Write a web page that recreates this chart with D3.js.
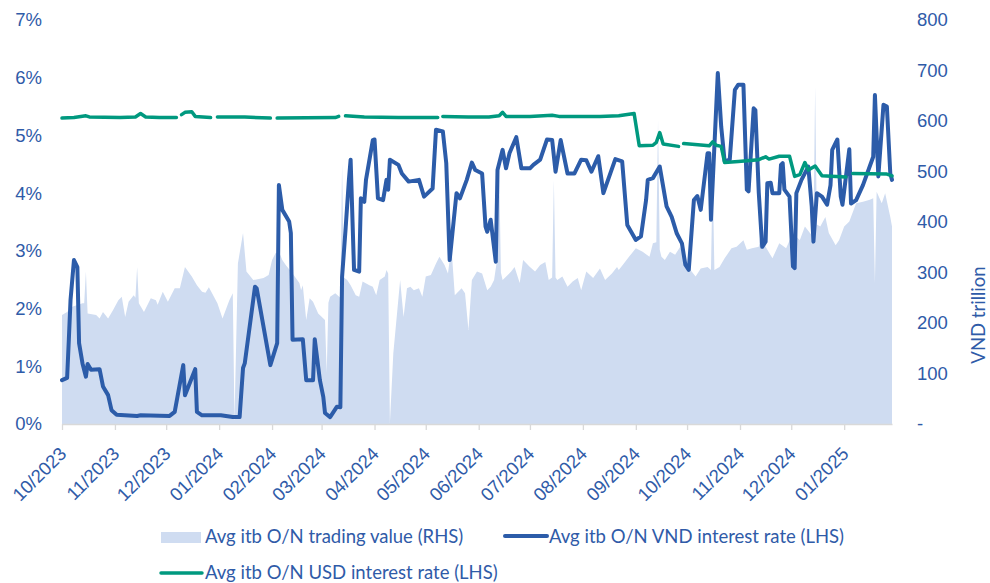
<!DOCTYPE html>
<html>
<head>
<meta charset="utf-8">
<script src="https://cdn.jsdelivr.net/npm/d3@7"></script>
<style>
  body { margin: 0; background: #fff; }
  svg { display: block; font-family: Lato, "Open Sans", sans-serif; }
  .axis text, .legend text, .axis-title { fill: #2f5ba8; font-size: 18.5px; }
</style>
</head>
<body>
<div id="chart"></div>
<script>
// avg interbank O/N trading value, VND trillion (right axis)
const tradingValue = [
  ["2023-10-01", 216], ["2023-10-04", 222], ["2023-10-07", 232], ["2023-10-13", 239],
  ["2023-10-14", 239], ["2023-10-15", 302], ["2023-10-16", 219], ["2023-10-21", 216],
  ["2023-10-23", 209], ["2023-10-25", 222], ["2023-10-28", 209], ["2023-10-31", 226],
  ["2023-11-03", 245], ["2023-11-05", 252], ["2023-11-07", 212], ["2023-11-09", 242],
  ["2023-11-12", 255], ["2023-11-13", 250], ["2023-11-14", 311], ["2023-11-15", 239],
  ["2023-11-18", 222], ["2023-11-22", 249], ["2023-11-25", 245], ["2023-11-26", 236],
  ["2023-11-29", 262], ["2023-12-02", 242], ["2023-12-06", 269], ["2023-12-09", 269],
  ["2023-12-12", 311], ["2023-12-16", 292], ["2023-12-19", 275], ["2023-12-22", 262],
  ["2023-12-24", 260], ["2023-12-26", 271], ["2023-12-31", 239], ["2024-01-03", 209],
  ["2024-01-06", 236], ["2024-01-07", 245], ["2024-01-09", 259], ["2024-01-10", 8],
  ["2024-01-12", 318], ["2024-01-15", 378], ["2024-01-17", 302], ["2024-01-21", 285],
  ["2024-01-27", 289], ["2024-01-30", 295], ["2024-02-01", 325], ["2024-02-03", 338],
  ["2024-02-05", 341], ["2024-02-07", 325], ["2024-02-09", 315], ["2024-02-13", 298],
  ["2024-02-17", 279], ["2024-02-18", 265], ["2024-02-19", 275], ["2024-02-21", 206],
  ["2024-02-23", 249], ["2024-02-25", 242], ["2024-02-28", 219], ["2024-03-03", 206],
  ["2024-03-04", 101], ["2024-03-05", 240], ["2024-03-06", 252], ["2024-03-09", 259],
  ["2024-03-12", 250], ["2024-03-13", 517], ["2024-03-14", 290], ["2024-03-16", 285],
  ["2024-03-18", 275], ["2024-03-21", 255], ["2024-03-23", 252], ["2024-03-25", 282],
  ["2024-03-29", 275], ["2024-03-31", 272], ["2024-04-02", 255], ["2024-04-04", 285],
  ["2024-04-07", 292], ["2024-04-08", 305], ["2024-04-09", 298], ["2024-04-10", 2],
  ["2024-04-12", 140], ["2024-04-16", 285], ["2024-04-18", 212], ["2024-04-20", 269],
  ["2024-04-22", 272], ["2024-04-24", 265], ["2024-04-27", 269], ["2024-04-29", 252],
  ["2024-05-01", 292], ["2024-05-04", 295], ["2024-05-07", 318], ["2024-05-09", 331],
  ["2024-05-12", 315], ["2024-05-14", 298], ["2024-05-16", 351], ["2024-05-18", 255],
  ["2024-05-22", 269], ["2024-05-24", 259], ["2024-05-26", 186], ["2024-05-28", 285],
  ["2024-05-31", 302], ["2024-06-03", 298], ["2024-06-06", 265], ["2024-06-08", 272],
  ["2024-06-10", 285], ["2024-06-12", 331], ["2024-06-13", 503], ["2024-06-14", 300],
  ["2024-06-15", 285], ["2024-06-18", 295], ["2024-06-20", 302], ["2024-06-22", 311],
  ["2024-06-25", 279], ["2024-06-27", 325], ["2024-07-01", 311], ["2024-07-04", 302],
  ["2024-07-07", 315], ["2024-07-10", 321], ["2024-07-12", 285], ["2024-07-14", 290],
  ["2024-07-15", 483], ["2024-07-16", 290], ["2024-07-17", 285], ["2024-07-20", 292],
  ["2024-07-23", 272], ["2024-07-26", 282], ["2024-07-29", 289], ["2024-07-31", 265],
  ["2024-08-03", 302], ["2024-08-07", 289], ["2024-08-11", 308], ["2024-08-14", 285],
  ["2024-08-18", 298], ["2024-08-21", 311], ["2024-08-22", 305], ["2024-08-25", 318],
  ["2024-08-28", 331], ["2024-09-01", 348], ["2024-09-05", 341], ["2024-09-09", 331],
  ["2024-09-11", 358], ["2024-09-13", 360], ["2024-09-14", 602], ["2024-09-15", 345],
  ["2024-09-16", 331], ["2024-09-18", 325], ["2024-09-21", 341], ["2024-09-24", 335],
  ["2024-09-27", 351], ["2024-09-30", 318], ["2024-10-03", 305], ["2024-10-06", 292],
  ["2024-10-09", 308], ["2024-10-13", 311], ["2024-10-15", 305], ["2024-10-16", 497],
  ["2024-10-17", 305], ["2024-10-20", 311], ["2024-10-23", 328], ["2024-10-27", 348],
  ["2024-10-30", 351], ["2024-11-03", 364], ["2024-11-05", 345], ["2024-11-08", 348],
  ["2024-11-12", 351], ["2024-11-14", 397], ["2024-11-16", 351], ["2024-11-20", 328],
  ["2024-11-24", 358], ["2024-11-28", 348], ["2024-12-02", 378], ["2024-12-06", 364],
  ["2024-12-09", 391], ["2024-12-13", 374], ["2024-12-14", 380], ["2024-12-15", 668],
  ["2024-12-16", 395], ["2024-12-18", 391], ["2024-12-21", 410], ["2024-12-23", 378],
  ["2024-12-27", 354], ["2024-12-29", 364], ["2025-01-01", 391], ["2025-01-04", 401],
  ["2025-01-08", 437], ["2025-01-12", 440], ["2025-01-16", 444], ["2025-01-18", 447],
  ["2025-01-19", 279], ["2025-01-20", 460], ["2025-01-23", 437], ["2025-01-25", 457],
  ["2025-01-28", 410], ["2025-01-29", 391]
];

// avg interbank O/N VND rate, % (left axis)
const vndRate = [
  ["2023-10-01", 0.76], ["2023-10-04", 0.80], ["2023-10-05", 1.46], ["2023-10-06", 2.15],
  ["2023-10-08", 2.84], ["2023-10-10", 2.72], ["2023-10-11", 1.40], ["2023-10-13", 1.05],
  ["2023-10-15", 0.82], ["2023-10-16", 1.04], ["2023-10-18", 0.94], ["2023-10-23", 0.95],
  ["2023-10-25", 0.65], ["2023-10-28", 0.50], ["2023-10-30", 0.24], ["2023-11-02", 0.16],
  ["2023-11-14", 0.14], ["2023-11-16", 0.15], ["2023-12-03", 0.14], ["2023-12-06", 0.21],
  ["2023-12-11", 1.02], ["2023-12-12", 0.50], ["2023-12-18", 0.95], ["2023-12-19", 0.21],
  ["2023-12-22", 0.15], ["2024-01-02", 0.15], ["2024-01-09", 0.12], ["2024-01-13", 0.12],
  ["2024-01-15", 0.97], ["2024-01-16", 1.05], ["2024-01-22", 2.38], ["2024-01-23", 2.35],
  ["2024-01-31", 1.02], ["2024-02-04", 1.40], ["2024-02-05", 4.14], ["2024-02-07", 3.71],
  ["2024-02-11", 3.51], ["2024-02-12", 3.31], ["2024-02-13", 1.46], ["2024-02-19", 1.47],
  ["2024-02-21", 0.76], ["2024-02-25", 0.76], ["2024-02-26", 1.47], ["2024-02-29", 0.76],
  ["2024-03-02", 0.47], ["2024-03-03", 0.19], ["2024-03-06", 0.12], ["2024-03-10", 0.30],
  ["2024-03-12", 0.29], ["2024-03-13", 2.55], ["2024-03-15", 3.36], ["2024-03-17", 4.23],
  ["2024-03-18", 4.58], ["2024-03-20", 2.67], ["2024-03-23", 2.64], ["2024-03-24", 3.91],
  ["2024-03-26", 3.85], ["2024-03-27", 4.23], ["2024-03-31", 4.92], ["2024-04-01", 4.93],
  ["2024-04-03", 3.91], ["2024-04-06", 3.88], ["2024-04-08", 4.23], ["2024-04-09", 4.06],
  ["2024-04-10", 4.58], ["2024-04-15", 4.49], ["2024-04-17", 4.34], ["2024-04-21", 4.20],
  ["2024-04-27", 4.23], ["2024-04-30", 3.94], ["2024-05-05", 4.08], ["2024-05-07", 5.10],
  ["2024-05-11", 5.07], ["2024-05-13", 4.52], ["2024-05-15", 2.84], ["2024-05-19", 4.00],
  ["2024-05-21", 3.91], ["2024-05-25", 4.23], ["2024-05-28", 4.53], ["2024-05-30", 4.40],
  ["2024-06-03", 4.34], ["2024-06-05", 3.42], ["2024-06-06", 3.33], ["2024-06-08", 3.54],
  ["2024-06-11", 2.81], ["2024-06-12", 4.40], ["2024-06-15", 4.75], ["2024-06-17", 4.43],
  ["2024-06-19", 4.69], ["2024-06-23", 4.97], ["2024-06-26", 4.43], ["2024-07-01", 4.43],
  ["2024-07-03", 4.49], ["2024-07-07", 4.58], ["2024-07-11", 4.93], ["2024-07-14", 4.92],
  ["2024-07-16", 4.37], ["2024-07-19", 4.92], ["2024-07-23", 4.34], ["2024-07-27", 4.34],
  ["2024-07-31", 4.58], ["2024-08-03", 4.57], ["2024-08-06", 4.37], ["2024-08-10", 4.64],
  ["2024-08-13", 4.00], ["2024-08-20", 4.59], ["2024-08-24", 4.55], ["2024-08-27", 3.45],
  ["2024-09-01", 3.19], ["2024-09-04", 3.25], ["2024-09-07", 3.88], ["2024-09-08", 4.23],
  ["2024-09-11", 4.26], ["2024-09-15", 4.46], ["2024-09-19", 3.77], ["2024-09-22", 3.59],
  ["2024-09-25", 3.30], ["2024-09-28", 3.13], ["2024-09-30", 2.76], ["2024-10-02", 2.67],
  ["2024-10-05", 3.88], ["2024-10-07", 3.95], ["2024-10-09", 3.71], ["2024-10-13", 4.69],
  ["2024-10-14", 4.69], ["2024-10-15", 3.54], ["2024-10-19", 6.08], ["2024-10-21", 5.15],
  ["2024-10-23", 4.55], ["2024-10-26", 4.58], ["2024-10-29", 5.79], ["2024-10-31", 5.88],
  ["2024-11-03", 5.88], ["2024-11-05", 4.06], ["2024-11-06", 4.03], ["2024-11-09", 5.47],
  ["2024-11-10", 5.44], ["2024-11-12", 4.00], ["2024-11-14", 3.07], ["2024-11-16", 3.16],
  ["2024-11-17", 4.17], ["2024-11-19", 4.18], ["2024-11-20", 4.00], ["2024-11-24", 4.00],
  ["2024-11-25", 4.49], ["2024-11-26", 4.52], ["2024-11-27", 4.06], ["2024-11-30", 3.94],
  ["2024-12-02", 2.73], ["2024-12-03", 2.70], ["2024-12-04", 4.00], ["2024-12-07", 4.23],
  ["2024-12-11", 4.46], ["2024-12-13", 3.77], ["2024-12-14", 3.16], ["2024-12-16", 4.00],
  ["2024-12-19", 3.94], ["2024-12-22", 3.80], ["2024-12-24", 4.14], ["2024-12-25", 4.75],
  ["2024-12-28", 4.93], ["2024-12-30", 3.94], ["2024-12-31", 3.80], ["2025-01-04", 4.76],
  ["2025-01-05", 3.82], ["2025-01-08", 3.88], ["2025-01-12", 4.14], ["2025-01-18", 4.63],
  ["2025-01-19", 5.70], ["2025-01-21", 4.29], ["2025-01-24", 5.53], ["2025-01-26", 5.50],
  ["2025-01-28", 4.34], ["2025-01-29", 4.23]
];

// avg interbank O/N USD rate, % (left axis), null = no quote
const usdRate = [
  ["2023-10-01", 5.30], ["2023-10-08", 5.31], ["2023-10-15", 5.34], ["2023-10-17", 5.32],
  ["2023-11-04", 5.31], ["2023-11-13", 5.32], ["2023-11-16", 5.38], ["2023-11-19", 5.32],
  ["2023-11-27", 5.31], ["2023-12-07", 5.31], ["2023-12-09", null], ["2023-12-10", 5.36],
  ["2023-12-12", 5.40], ["2023-12-16", 5.41], ["2023-12-18", 5.33], ["2023-12-27", 5.31],
  ["2023-12-29", null], ["2023-12-31", 5.32], ["2024-01-16", 5.32], ["2024-01-31", 5.30],
  ["2024-02-02", null], ["2024-02-04", 5.30], ["2024-03-09", 5.31], ["2024-03-11", 5.33],
  ["2024-03-12", null], ["2024-03-15", 5.34], ["2024-03-26", 5.32], ["2024-04-15", 5.31],
  ["2024-05-08", 5.31], ["2024-05-09", null], ["2024-05-11", 5.33], ["2024-05-26", 5.32],
  ["2024-06-07", 5.32], ["2024-06-13", 5.34], ["2024-06-15", 5.40], ["2024-06-17", 5.33],
  ["2024-07-01", 5.33], ["2024-07-14", 5.35], ["2024-07-18", 5.33], ["2024-08-11", 5.33],
  ["2024-08-22", 5.34], ["2024-08-31", 5.38], ["2024-09-03", 4.82], ["2024-09-11", 4.83],
  ["2024-09-13", 4.88], ["2024-09-15", 5.05], ["2024-09-17", 4.85], ["2024-09-26", 4.81],
  ["2024-09-27", null], ["2024-09-29", 4.86], ["2024-10-14", 4.82], ["2024-10-16", 4.89],
  ["2024-10-18", 4.83], ["2024-10-21", 4.81], ["2024-10-23", 4.53], ["2024-10-31", 4.55],
  ["2024-11-12", 4.58], ["2024-11-16", 4.63], ["2024-11-18", 4.59], ["2024-11-24", 4.64],
  ["2024-11-30", 4.64], ["2024-12-03", 4.29], ["2024-12-06", 4.32], ["2024-12-09", 4.53],
  ["2024-12-11", 4.40], ["2024-12-15", 4.47], ["2024-12-19", 4.30], ["2025-01-02", 4.28],
  ["2025-01-04", null], ["2025-01-06", 4.34], ["2025-01-26", 4.33], ["2025-01-29", 4.30]
];

const monthLabels = ["10/2023", "11/2023", "12/2023", "01/2024", "02/2024", "03/2024",
  "04/2024", "05/2024", "06/2024", "07/2024", "08/2024", "09/2024", "10/2024",
  "11/2024", "12/2024", "01/2025"];
const leftTicks = [0, 1, 2, 3, 4, 5, 6, 7];
const rightTicks = [0, 100, 200, 300, 400, 500, 600, 700, 800];
const seriesNames = ["Avg itb O/N trading value (RHS)",
  "Avg itb O/N VND interest rate (LHS)",
  "Avg itb O/N USD interest rate (LHS)"];

const colors = { area: "#cfdcf1", vnd: "#2c5ca9", usd: "#00997f", axis: "#d9d9d9" };

const parseDay = d3.timeParse("%Y-%m-%d");
const parseMonth = d3.timeParse("%m/%Y");
function toPoints(rows) {
  return rows.map(function(r) { return { date: parseDay(r[0]), value: r[1] }; });
}

const width = 990, height = 583;
const plot = { left: 62, right: 892, top: 20, bottom: 424 };

const svg = d3.select("#chart").append("svg")
  .attr("width", width)
  .attr("height", height);

const x = d3.scaleTime()
  .domain([parseDay("2023-10-01"), parseDay("2025-01-29")])
  .range([plot.left, plot.right]);
const yLeft = d3.scaleLinear().domain([0, 7]).range([plot.bottom, plot.top]);
const yRight = d3.scaleLinear().domain([0, 800]).range([plot.bottom, plot.top]);

// trading value area, drawn first so the lines sit on top
const area = d3.area()
  .x(function(d) { return x(d.date); })
  .y0(yRight(0))
  .y1(function(d) { return yRight(d.value); });
svg.append("path")
  .datum(toPoints(tradingValue))
  .attr("fill", colors.area)
  .attr("d", area);

// x axis
const xAxis = d3.axisBottom(x)
  .tickValues(monthLabels.map(parseMonth))
  .tickFormat(d3.timeFormat("%m/%Y"))
  .tickSize(6)
  .tickSizeOuter(0);
const gx = svg.append("g")
  .attr("class", "axis")
  .attr("transform", "translate(0," + plot.bottom + ")")
  .call(xAxis);
gx.select(".domain").attr("stroke", colors.axis).attr("stroke-width", 1.3);
gx.selectAll(".tick line").attr("stroke", colors.axis).attr("stroke-width", 1.3);
gx.selectAll(".tick text")
  .attr("text-anchor", "end")
  .attr("x", 0).attr("y", 0).attr("dy", 0)
  .attr("transform", "translate(5,31) rotate(-45)");

// left axis (%)
const gl = svg.append("g")
  .attr("class", "axis")
  .attr("transform", "translate(" + plot.left + ",0)")
  .call(d3.axisLeft(yLeft).tickValues(leftTicks)
    .tickFormat(function(d) { return d + "%"; })
    .tickSize(0).tickPadding(20));
gl.select(".domain").remove();

// right axis (VND trillion)
const gr = svg.append("g")
  .attr("class", "axis")
  .attr("transform", "translate(" + plot.right + ",0)")
  .call(d3.axisRight(yRight).tickValues(rightTicks)
    .tickFormat(function(d) { return d === 0 ? "-" : d; })
    .tickSize(0).tickPadding(25));
gr.select(".domain").remove();

svg.append("text")
  .attr("class", "axis-title")
  .attr("text-anchor", "middle")
  .attr("transform", "translate(985,315) rotate(-90)")
  .text("VND trillion");

// rate lines
const line = d3.line()
  .defined(function(d) { return d.value !== null; })
  .x(function(d) { return x(d.date); })
  .y(function(d) { return yLeft(d.value); });
svg.append("path")
  .datum(toPoints(vndRate))
  .attr("fill", "none")
  .attr("stroke", colors.vnd)
  .attr("stroke-width", 4)
  .attr("stroke-linejoin", "round")
  .attr("stroke-linecap", "round")
  .attr("d", line);
svg.append("path")
  .datum(toPoints(usdRate))
  .attr("fill", "none")
  .attr("stroke", colors.usd)
  .attr("stroke-width", 3.5)
  .attr("stroke-linejoin", "round")
  .attr("stroke-linecap", "round")
  .attr("d", line);

// legend
const legend = svg.append("g").attr("class", "legend");
legend.append("rect")
  .attr("x", 161).attr("y", 532).attr("width", 40).attr("height", 11)
  .attr("fill", colors.area);
legend.append("text").attr("x", 205).attr("y", 537).attr("dy", "0.35em").text(seriesNames[0]);
legend.append("line")
  .attr("x1", 505).attr("x2", 547).attr("y1", 536).attr("y2", 536)
  .attr("stroke", colors.vnd).attr("stroke-width", 4).attr("stroke-linecap", "round");
legend.append("text").attr("x", 549).attr("y", 537).attr("dy", "0.35em").text(seriesNames[1]);
legend.append("line")
  .attr("x1", 161).attr("x2", 202).attr("y1", 573).attr("y2", 573)
  .attr("stroke", colors.usd).attr("stroke-width", 3.5).attr("stroke-linecap", "round");
legend.append("text").attr("x", 205).attr("y", 573).attr("dy", "0.35em").text(seriesNames[2]);
</script>
</body>
</html>
